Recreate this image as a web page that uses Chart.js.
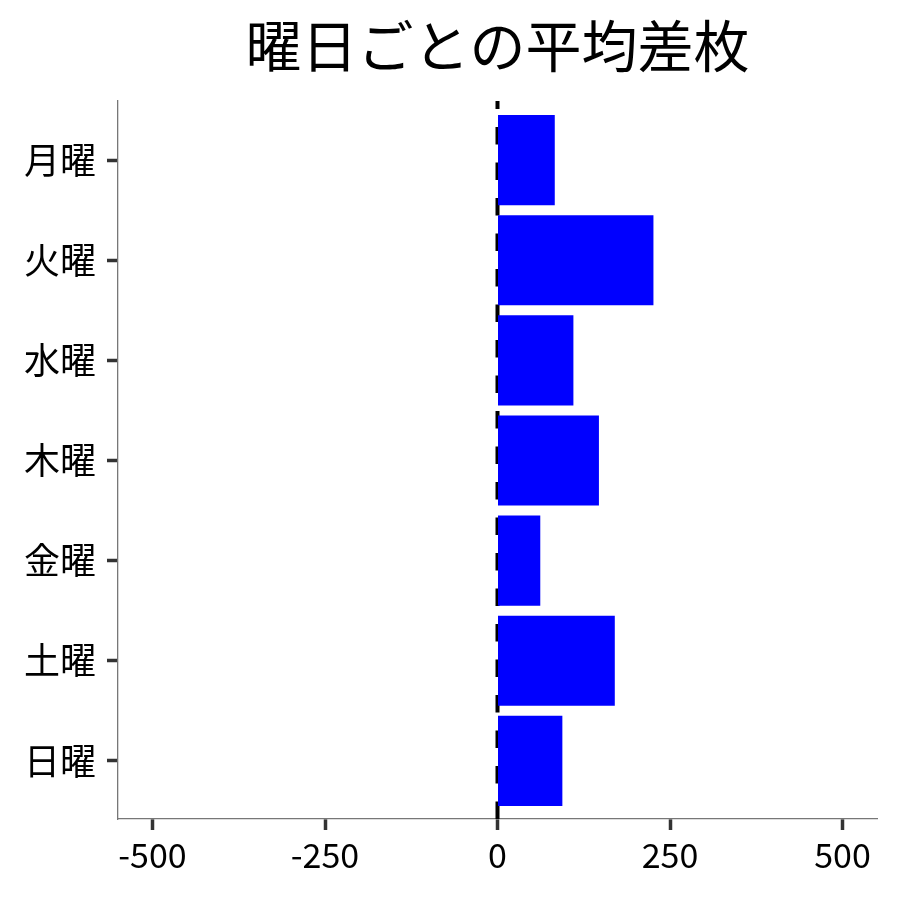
<!DOCTYPE html>
<html>
<head>
<meta charset="utf-8">
<script src="https://cdn.jsdelivr.net/npm/chart.js@4/dist/chart.umd.min.js"></script>
<style>
  html, body { margin: 0; padding: 0; background: #fff; }
  #wrap { width: 900px; height: 900px; }
</style>
</head>
<body>
<div id="wrap"><canvas id="chart" width="900" height="900"></canvas></div>
<script>
const days = ['月曜', '火曜', '水曜', '木曜', '金曜', '土曜', '日曜'];
const avgDiff = [83, 226, 110, 147, 62, 170, 94];
const xTicks = [-500, -250, 0, 250, 500];
const refValue = 0;

const jp = '"Noto Sans CJK JP", "Noto Sans", sans-serif';

// dashed vertical line at 0, under the bars
const refLine = {
  id: 'refLine',
  beforeDatasetsDraw(chart) {
    const ctx = chart.ctx;
    const area = chart.chartArea;
    const x = chart.scales.x.getPixelForValue(refValue);
    ctx.save();
    ctx.strokeStyle = '#000';
    ctx.lineWidth = 4;
    ctx.setLineDash([17.5, 18]);
    ctx.beginPath();
    ctx.moveTo(x, area.bottom);
    ctx.lineTo(x, area.top);
    ctx.stroke();
    ctx.restore();
  }
};

new Chart(document.getElementById('chart'), {
  type: 'bar',
  data: {
    datasets: [{
      data: avgDiff.map((v, i) => ({ x: v, y: i })),
      backgroundColor: '#0000ff',
      borderWidth: 0,
      categoryPercentage: 1,
      barPercentage: 0.9
    }]
  },
  options: {
    indexAxis: 'y',
    responsive: false,
    animation: false,
    layout: { padding: { left: 0, right: 23, top: 0, bottom: 0 } },
    plugins: {
      legend: { display: false },
      tooltip: { enabled: false },
      title: {
        display: true,
        fullSize: false,
        text: '曜日ごとの平均差枚',
        color: '#000',
        font: { family: jp, size: 56, weight: 'normal', lineHeight: 1.2 },
        padding: { top: 12, bottom: 21.8 }
      }
    },
    scales: {
      x: {
        type: 'linear',
        min: -550,
        max: 550,
        afterBuildTicks: (s) => { s.ticks = xTicks.map(v => ({ value: v })); },
        afterFit: (s) => { s.height = 81; },
        grid: { drawOnChartArea: false, tickLength: 11, tickWidth: 3.5, tickColor: '#333' },
        border: { color: '#777', width: 1.3 },
        ticks: { color: '#000', padding: 5, font: { family: jp, size: 34 } }
      },
      y: {
        type: 'linear',
        reverse: true,
        offset: false,
        min: -0.59,
        max: 6.58,
        afterBuildTicks: (s) => { s.ticks = days.map((d, i) => ({ value: i })); },
        afterFit: (s) => { s.width = 118; },
        grid: { offset: false, drawOnChartArea: false, tickLength: 11, tickWidth: 3.5, tickColor: '#333' },
        border: { color: '#777', width: 1.3 },
        ticks: {
          color: '#000',
          padding: 11,
          autoSkip: false,
          font: { family: jp, size: 36 },
          callback: (v) => days[v]
        }
      }
    }
  },
  plugins: [refLine]
});
</script>
</body>
</html>
